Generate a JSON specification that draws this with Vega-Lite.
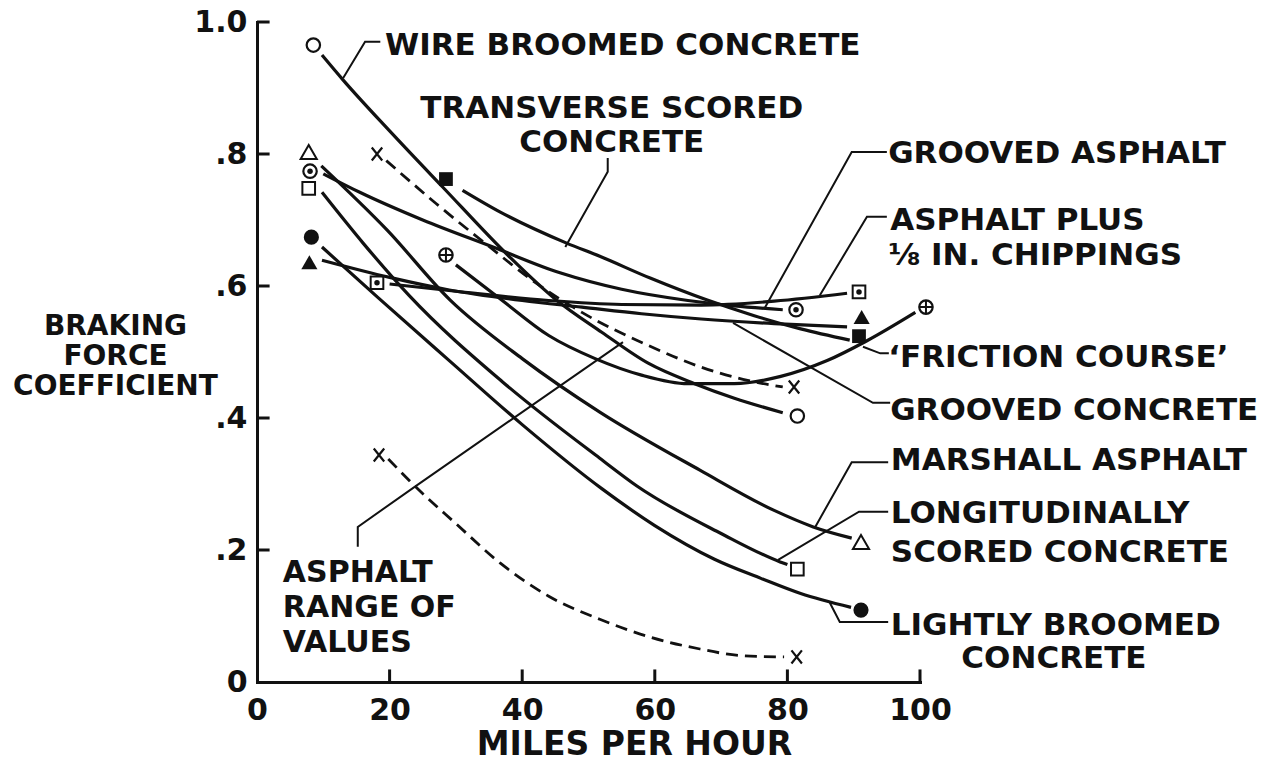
{
  "$schema": "https://vega.github.io/schema/vega-lite/v6.json",
  "width": 663,
  "height": 660,
  "autosize": {"type": "none"},
  "padding": {"left": 257, "top": 22, "right": 363, "bottom": 79},
  "background": "white",
  "config": {
    "view": {"stroke": null},
    "font": "DejaVu Sans",
    "axis": {"grid": false}
  },
  "datasets": {
    "curves": [
      {"series": "Wire broomed concrete", "mph": 9.8, "coef": 0.95},
      {"series": "Wire broomed concrete", "mph": 13, "coef": 0.912},
      {"series": "Wire broomed concrete", "mph": 20, "coef": 0.835},
      {"series": "Wire broomed concrete", "mph": 28, "coef": 0.75},
      {"series": "Wire broomed concrete", "mph": 38, "coef": 0.645},
      {"series": "Wire broomed concrete", "mph": 45, "coef": 0.58},
      {"series": "Wire broomed concrete", "mph": 52, "coef": 0.53},
      {"series": "Wire broomed concrete", "mph": 59, "coef": 0.483},
      {"series": "Wire broomed concrete", "mph": 66, "coef": 0.452},
      {"series": "Wire broomed concrete", "mph": 72, "coef": 0.43},
      {"series": "Wire broomed concrete", "mph": 79.3, "coef": 0.408},
      {"series": "Transverse scored concrete", "mph": 31, "coef": 0.745},
      {"series": "Transverse scored concrete", "mph": 36.7, "coef": 0.712},
      {"series": "Transverse scored concrete", "mph": 46.7, "coef": 0.665},
      {"series": "Transverse scored concrete", "mph": 51.7, "coef": 0.645},
      {"series": "Transverse scored concrete", "mph": 59.3, "coef": 0.612},
      {"series": "Transverse scored concrete", "mph": 67.8, "coef": 0.579},
      {"series": "Transverse scored concrete", "mph": 75, "coef": 0.555},
      {"series": "Transverse scored concrete", "mph": 82, "coef": 0.535},
      {"series": "Transverse scored concrete", "mph": 89.4, "coef": 0.518},
      {"series": "Grooved asphalt", "mph": 10, "coef": 0.77},
      {"series": "Grooved asphalt", "mph": 15.5, "coef": 0.742},
      {"series": "Grooved asphalt", "mph": 25, "coef": 0.7},
      {"series": "Grooved asphalt", "mph": 35.6, "coef": 0.659},
      {"series": "Grooved asphalt", "mph": 45.7, "coef": 0.62},
      {"series": "Grooved asphalt", "mph": 55, "coef": 0.595},
      {"series": "Grooved asphalt", "mph": 65, "coef": 0.578},
      {"series": "Grooved asphalt", "mph": 72, "coef": 0.57},
      {"series": "Grooved asphalt", "mph": 79.3, "coef": 0.564},
      {"series": "Asphalt plus 1/8 in. chippings", "mph": 20, "coef": 0.603},
      {"series": "Asphalt plus 1/8 in. chippings", "mph": 30, "coef": 0.592},
      {"series": "Asphalt plus 1/8 in. chippings", "mph": 44, "coef": 0.578},
      {"series": "Asphalt plus 1/8 in. chippings", "mph": 55, "coef": 0.572},
      {"series": "Asphalt plus 1/8 in. chippings", "mph": 67, "coef": 0.571},
      {"series": "Asphalt plus 1/8 in. chippings", "mph": 78, "coef": 0.577},
      {"series": "Asphalt plus 1/8 in. chippings", "mph": 89, "coef": 0.589},
      {"series": "Grooved concrete", "mph": 9.8, "coef": 0.639},
      {"series": "Grooved concrete", "mph": 20, "coef": 0.613},
      {"series": "Grooved concrete", "mph": 29, "coef": 0.594},
      {"series": "Grooved concrete", "mph": 40, "coef": 0.578},
      {"series": "Grooved concrete", "mph": 49, "coef": 0.568},
      {"series": "Grooved concrete", "mph": 58, "coef": 0.558},
      {"series": "Grooved concrete", "mph": 67, "coef": 0.55},
      {"series": "Grooved concrete", "mph": 78, "coef": 0.543},
      {"series": "Grooved concrete", "mph": 89, "coef": 0.538},
      {"series": "Friction course", "mph": 30, "coef": 0.632},
      {"series": "Friction course", "mph": 37, "coef": 0.578},
      {"series": "Friction course", "mph": 44, "coef": 0.525},
      {"series": "Friction course", "mph": 51, "coef": 0.49},
      {"series": "Friction course", "mph": 58, "coef": 0.465},
      {"series": "Friction course", "mph": 65, "coef": 0.452},
      {"series": "Friction course", "mph": 72, "coef": 0.452},
      {"series": "Friction course", "mph": 79, "coef": 0.463},
      {"series": "Friction course", "mph": 86, "coef": 0.487},
      {"series": "Friction course", "mph": 92, "coef": 0.517},
      {"series": "Friction course", "mph": 99.3, "coef": 0.56},
      {"series": "Marshall asphalt", "mph": 9.7, "coef": 0.782},
      {"series": "Marshall asphalt", "mph": 19.6, "coef": 0.685},
      {"series": "Marshall asphalt", "mph": 29.1, "coef": 0.579},
      {"series": "Marshall asphalt", "mph": 40, "coef": 0.49},
      {"series": "Marshall asphalt", "mph": 51.7, "coef": 0.409},
      {"series": "Marshall asphalt", "mph": 66.8, "coef": 0.321},
      {"series": "Marshall asphalt", "mph": 78, "coef": 0.26},
      {"series": "Marshall asphalt", "mph": 83.9, "coef": 0.235},
      {"series": "Marshall asphalt", "mph": 89.7, "coef": 0.218},
      {"series": "Longitudinally scored concrete", "mph": 9.8, "coef": 0.742},
      {"series": "Longitudinally scored concrete", "mph": 16, "coef": 0.665},
      {"series": "Longitudinally scored concrete", "mph": 23, "coef": 0.585},
      {"series": "Longitudinally scored concrete", "mph": 37, "coef": 0.455},
      {"series": "Longitudinally scored concrete", "mph": 51.7, "coef": 0.339},
      {"series": "Longitudinally scored concrete", "mph": 57.3, "coef": 0.297},
      {"series": "Longitudinally scored concrete", "mph": 70, "coef": 0.225},
      {"series": "Longitudinally scored concrete", "mph": 78.9, "coef": 0.182},
      {"series": "Longitudinally scored concrete", "mph": 80, "coef": 0.178},
      {"series": "Lightly broomed concrete", "mph": 9.8, "coef": 0.659},
      {"series": "Lightly broomed concrete", "mph": 18.3, "coef": 0.582},
      {"series": "Lightly broomed concrete", "mph": 29, "coef": 0.487},
      {"series": "Lightly broomed concrete", "mph": 40, "coef": 0.39},
      {"series": "Lightly broomed concrete", "mph": 52, "coef": 0.293},
      {"series": "Lightly broomed concrete", "mph": 60, "coef": 0.237},
      {"series": "Lightly broomed concrete", "mph": 69, "coef": 0.186},
      {"series": "Lightly broomed concrete", "mph": 76, "coef": 0.157},
      {"series": "Lightly broomed concrete", "mph": 82, "coef": 0.134},
      {"series": "Lightly broomed concrete", "mph": 89.6, "coef": 0.113},
      {"series": "Asphalt range (upper)", "mph": 19.5, "coef": 0.79},
      {"series": "Asphalt range (upper)", "mph": 27, "coef": 0.725},
      {"series": "Asphalt range (upper)", "mph": 35, "coef": 0.66},
      {"series": "Asphalt range (upper)", "mph": 42, "coef": 0.605},
      {"series": "Asphalt range (upper)", "mph": 49, "coef": 0.56},
      {"series": "Asphalt range (upper)", "mph": 59, "coef": 0.51},
      {"series": "Asphalt range (upper)", "mph": 67, "coef": 0.477},
      {"series": "Asphalt range (upper)", "mph": 74, "coef": 0.457},
      {"series": "Asphalt range (upper)", "mph": 79.3, "coef": 0.447},
      {"series": "Asphalt range (lower)", "mph": 19.8, "coef": 0.338},
      {"series": "Asphalt range (lower)", "mph": 24, "coef": 0.295},
      {"series": "Asphalt range (lower)", "mph": 30, "coef": 0.24},
      {"series": "Asphalt range (lower)", "mph": 36.7, "coef": 0.18},
      {"series": "Asphalt range (lower)", "mph": 44, "coef": 0.13},
      {"series": "Asphalt range (lower)", "mph": 51.7, "coef": 0.095},
      {"series": "Asphalt range (lower)", "mph": 59.3, "coef": 0.068},
      {"series": "Asphalt range (lower)", "mph": 66.8, "coef": 0.05},
      {"series": "Asphalt range (lower)", "mph": 73, "coef": 0.04},
      {"series": "Asphalt range (lower)", "mph": 79.5, "coef": 0.038}
    ],
    "markers": [
      {"series": "Wire broomed concrete", "kind": "opencircle", "mph": 8.5, "coef": 0.965},
      {"series": "Wire broomed concrete", "kind": "opencircle", "mph": 81.5, "coef": 0.403},
      {"series": "Transverse scored concrete", "kind": "filledsquare", "mph": 28.5, "coef": 0.762},
      {"series": "Transverse scored concrete", "kind": "filledsquare", "mph": 90.8, "coef": 0.524},
      {"series": "Grooved asphalt", "kind": "circledot", "mph": 8, "coef": 0.774},
      {"series": "Grooved asphalt", "kind": "circledot", "mph": 81.3, "coef": 0.564},
      {"series": "Asphalt plus 1/8 in. chippings", "kind": "squaredot", "mph": 18.1, "coef": 0.605},
      {"series": "Asphalt plus 1/8 in. chippings", "kind": "squaredot", "mph": 90.8, "coef": 0.591},
      {"series": "Grooved concrete", "kind": "filledtriangle", "mph": 7.9, "coef": 0.636},
      {"series": "Grooved concrete", "kind": "filledtriangle", "mph": 91.2, "coef": 0.553},
      {"series": "Friction course", "kind": "circleplus", "mph": 28.5, "coef": 0.647},
      {"series": "Friction course", "kind": "circleplus", "mph": 100.9, "coef": 0.568},
      {"series": "Marshall asphalt", "kind": "opentriangle", "mph": 7.8, "coef": 0.803},
      {"series": "Marshall asphalt", "kind": "opentriangle", "mph": 91.1, "coef": 0.212},
      {"series": "Longitudinally scored concrete", "kind": "opensquare", "mph": 7.8, "coef": 0.748},
      {"series": "Longitudinally scored concrete", "kind": "opensquare", "mph": 81.5, "coef": 0.171},
      {"series": "Lightly broomed concrete", "kind": "filledcircle", "mph": 8.2, "coef": 0.674},
      {"series": "Lightly broomed concrete", "kind": "filledcircle", "mph": 91.1, "coef": 0.109},
      {"series": "Asphalt range (upper)", "kind": "cross", "mph": 18.1, "coef": 0.8},
      {"series": "Asphalt range (upper)", "kind": "cross", "mph": 81, "coef": 0.447},
      {"series": "Asphalt range (lower)", "kind": "cross", "mph": 18.4, "coef": 0.344},
      {"series": "Asphalt range (lower)", "kind": "cross", "mph": 81.4, "coef": 0.038}
    ],
    "leaders": [
      {"leader": "wire", "seq": 1, "mph": 18.6, "coef": 0.97},
      {"leader": "wire", "seq": 2, "mph": 16.3, "coef": 0.97},
      {"leader": "wire", "seq": 3, "mph": 13.0, "coef": 0.915},
      {"leader": "transverse", "seq": 1, "mph": 52.9, "coef": 0.794},
      {"leader": "transverse", "seq": 2, "mph": 52.9, "coef": 0.773},
      {"leader": "transverse", "seq": 3, "mph": 46.5, "coef": 0.659},
      {"leader": "groovedasphalt", "seq": 1, "mph": 95.0, "coef": 0.803},
      {"leader": "groovedasphalt", "seq": 2, "mph": 89.7, "coef": 0.803},
      {"leader": "groovedasphalt", "seq": 3, "mph": 76.6, "coef": 0.567},
      {"leader": "chippings", "seq": 1, "mph": 95.0, "coef": 0.705},
      {"leader": "chippings", "seq": 2, "mph": 92.0, "coef": 0.705},
      {"leader": "chippings", "seq": 3, "mph": 84.9, "coef": 0.586},
      {"leader": "friction", "seq": 1, "mph": 95.3, "coef": 0.498},
      {"leader": "friction", "seq": 2, "mph": 94.0, "coef": 0.498},
      {"leader": "friction", "seq": 3, "mph": 91.4, "coef": 0.508},
      {"leader": "groovedconcrete", "seq": 1, "mph": 95.5, "coef": 0.423},
      {"leader": "groovedconcrete", "seq": 2, "mph": 92.9, "coef": 0.423},
      {"leader": "groovedconcrete", "seq": 3, "mph": 71.8, "coef": 0.544},
      {"leader": "marshall", "seq": 1, "mph": 95.2, "coef": 0.333},
      {"leader": "marshall", "seq": 2, "mph": 89.7, "coef": 0.333},
      {"leader": "marshall", "seq": 3, "mph": 84.2, "coef": 0.235},
      {"leader": "longitudinal", "seq": 1, "mph": 95.2, "coef": 0.258},
      {"leader": "longitudinal", "seq": 2, "mph": 90.8, "coef": 0.258},
      {"leader": "longitudinal", "seq": 3, "mph": 78.6, "coef": 0.185},
      {"leader": "lightly", "seq": 1, "mph": 95.2, "coef": 0.091},
      {"leader": "lightly", "seq": 2, "mph": 87.9, "coef": 0.091},
      {"leader": "lightly", "seq": 3, "mph": 86.4, "coef": 0.12},
      {"leader": "range", "seq": 1, "mph": 15.2, "coef": 0.205},
      {"leader": "range", "seq": 2, "mph": 15.2, "coef": 0.235},
      {"leader": "range", "seq": 3, "mph": 24.1, "coef": 0.298},
      {"leader": "range", "seq": 4, "mph": 55.2, "coef": 0.515}
    ],
    "yTicks": [
      {"mph": 0, "coef": 0.2}, {"mph": 0, "coef": 0.4}, {"mph": 0, "coef": 0.6}, {"mph": 0, "coef": 0.8}, {"mph": 0, "coef": 1.0}
    ],
    "xTicks": [
      {"mph": 20, "coef": 0}, {"mph": 40, "coef": 0}, {"mph": 60, "coef": 0}, {"mph": 80, "coef": 0}, {"mph": 100, "coef": 0}
    ],
    "labelsRight": [
      {"t": "WIRE BROOMED CONCRETE", "mph": 19.3, "coef": 0.95},
      {"t": "GROOVED ASPHALT", "mph": 95.2, "coef": 0.786},
      {"t": "ASPHALT PLUS", "mph": 95.5, "coef": 0.685},
      {"t": "⅛ IN. CHIPPINGS", "mph": 95.2, "coef": 0.632},
      {"t": "‘FRICTION COURSE’", "mph": 95.2, "coef": 0.477},
      {"t": "GROOVED CONCRETE", "mph": 95.5, "coef": 0.397},
      {"t": "MARSHALL ASPHALT", "mph": 95.6, "coef": 0.321},
      {"t": "LONGITUDINALLY", "mph": 95.6, "coef": 0.241},
      {"t": "SCORED CONCRETE", "mph": 95.6, "coef": 0.182},
      {"t": "LIGHTLY BROOMED", "mph": 95.6, "coef": 0.071}
    ],
    "labelsRange": [
      {"t": "ASPHALT", "mph": 3.9, "coef": 0.152},
      {"t": "RANGE OF", "mph": 3.9, "coef": 0.098},
      {"t": "VALUES", "mph": 3.9, "coef": 0.045}
    ],
    "labelsCenter": [
      {"t": "TRANSVERSE SCORED", "mph": 53.5, "coef": 0.855},
      {"t": "CONCRETE", "mph": 53.5, "coef": 0.803},
      {"t": "CONCRETE", "mph": 120.2, "coef": 0.021}
    ]
  },
  "encoding": {
    "x": {
      "field": "mph",
      "type": "quantitative",
      "scale": {"domain": [0, 100], "nice": false, "zero": false},
      "axis": {
        "values": [0, 20, 40, 60, 80, 100],
        "title": "MILES PER HOUR",
        "ticks": false,
        "tickSize": 0,
        "domainColor": "#111",
        "domainWidth": 3,
        "domainCap": "square",
        "labelPadding": 13,
        "labelFontSize": 30,
        "labelFontWeight": "bold",
        "labelColor": "#111",
        "labelFont": "DejaVu Sans",
        "labelFlush": false,
        "labelOverlap": false,
        "titleFontSize": 33,
        "titleFontWeight": "bold",
        "titleColor": "#111",
        "titleFont": "DejaVu Sans",
        "titleX": 377,
        "titleY": 72,
        "titleAlign": "center",
        "titleBaseline": "alphabetic"
      }
    },
    "y": {
      "field": "coef",
      "type": "quantitative",
      "scale": {"domain": [0, 1], "nice": false, "zero": false},
      "axis": {
        "values": [0, 0.2, 0.4, 0.6, 0.8, 1],
        "labelExpr": "datum.value == 0 ? '0' : datum.value == 1 ? '1.0' : '.' + format(datum.value * 10, 'd')",
        "title": ["BRAKING", "FORCE", "COEFFICIENT"],
        "ticks": false,
        "tickSize": 0,
        "domainColor": "#111",
        "domainWidth": 3,
        "domainCap": "square",
        "labelPadding": 10,
        "labelFontSize": 30,
        "labelFontWeight": "bold",
        "labelColor": "#111",
        "labelFont": "DejaVu Sans",
        "labelFlush": false,
        "labelOverlap": false,
        "titleFontSize": 28,
        "titleFontWeight": "bold",
        "titleColor": "#111",
        "titleFont": "DejaVu Sans",
        "titleAngle": 0,
        "titleX": -142,
        "titleY": 312,
        "titleAlign": "center",
        "titleBaseline": "alphabetic",
        "titleLineHeight": 30
      }
    }
  },
  "layer": [
    {
      "data": {"name": "curves"},
      "transform": [{"filter": {"not": {"field": "series", "oneOf": ["Asphalt range (upper)", "Asphalt range (lower)"]}}}],
      "mark": {"type": "line", "interpolate": "monotone", "strokeWidth": 3.2, "color": "#111", "strokeCap": "butt"},
      "encoding": {"detail": {"field": "series"}}
    },
    {
      "data": {"name": "curves"},
      "transform": [{"filter": {"field": "series", "oneOf": ["Asphalt range (upper)", "Asphalt range (lower)"]}}],
      "mark": {"type": "line", "interpolate": "monotone", "strokeWidth": 2.8, "color": "#111", "strokeDash": [12, 7]},
      "encoding": {"detail": {"field": "series"}}
    },
    {
      "data": {"name": "leaders"},
      "mark": {"type": "line", "strokeWidth": 2, "color": "#111"},
      "encoding": {"detail": {"field": "leader"}, "order": {"field": "seq"}}
    },
    {
      "data": {"name": "yTicks"},
      "mark": {"type": "rule", "strokeWidth": 3, "color": "#111"},
      "encoding": {"x2": {"datum": 1.9}}
    },
    {
      "data": {"name": "xTicks"},
      "mark": {"type": "rule", "strokeWidth": 3, "color": "#111"},
      "encoding": {"y2": {"datum": 0.019}}
    },
    {
      "data": {"name": "markers"},
      "transform": [{"filter": {"field": "kind", "oneOf": ["opencircle", "circledot", "circleplus"]}}],
      "mark": {"type": "point", "shape": "circle", "filled": false, "stroke": "#111", "strokeWidth": 2.2, "size": 180, "opacity": 1}
    },
    {
      "data": {"name": "markers"},
      "transform": [{"filter": {"field": "kind", "equal": "filledcircle"}}],
      "mark": {"type": "point", "shape": "circle", "filled": true, "color": "#111", "size": 230, "opacity": 1}
    },
    {
      "data": {"name": "markers"},
      "transform": [{"filter": {"field": "kind", "oneOf": ["circledot", "squaredot"]}}],
      "mark": {"type": "point", "shape": "circle", "filled": true, "color": "#111", "size": 30, "opacity": 1}
    },
    {
      "data": {"name": "markers"},
      "transform": [{"filter": {"field": "kind", "oneOf": ["opensquare", "squaredot"]}}],
      "mark": {"type": "point", "shape": "square", "filled": false, "stroke": "#111", "strokeWidth": 2, "size": 160, "opacity": 1}
    },
    {
      "data": {"name": "markers"},
      "transform": [{"filter": {"field": "kind", "equal": "filledsquare"}}],
      "mark": {"type": "point", "shape": "square", "filled": true, "color": "#111", "size": 190, "opacity": 1}
    },
    {
      "data": {"name": "markers"},
      "transform": [{"filter": {"field": "kind", "equal": "opentriangle"}}],
      "mark": {"type": "point", "shape": "triangle-up", "filled": false, "stroke": "#111", "strokeWidth": 2, "size": 260, "opacity": 1}
    },
    {
      "data": {"name": "markers"},
      "transform": [{"filter": {"field": "kind", "equal": "filledtriangle"}}],
      "mark": {"type": "point", "shape": "triangle-up", "filled": true, "color": "#111", "size": 260, "opacity": 1}
    },
    {
      "data": {"name": "markers"},
      "transform": [{"filter": {"field": "kind", "equal": "cross"}}],
      "mark": {"type": "point", "shape": "M-0.8,-1L0.8,1M-0.8,1L0.8,-1", "filled": false, "stroke": "#111", "strokeWidth": 2.2, "size": 170, "opacity": 1}
    },
    {
      "data": {"name": "markers"},
      "transform": [{"filter": {"field": "kind", "equal": "circleplus"}}],
      "mark": {"type": "point", "shape": "M-1,0L1,0M0,-1L0,1", "filled": false, "stroke": "#111", "strokeWidth": 2, "size": 150, "opacity": 1}
    },
    {
      "data": {"name": "labelsRight"},
      "mark": {"type": "text", "align": "left", "baseline": "alphabetic", "fontSize": 31, "fontWeight": "bold", "font": "DejaVu Sans", "color": "#111"},
      "encoding": {"text": {"field": "t"}}
    },
    {
      "data": {"name": "labelsRange"},
      "mark": {"type": "text", "align": "left", "baseline": "alphabetic", "fontSize": 30, "fontWeight": "bold", "font": "DejaVu Sans", "color": "#111"},
      "encoding": {"text": {"field": "t"}}
    },
    {
      "data": {"name": "labelsCenter"},
      "mark": {"type": "text", "align": "center", "baseline": "alphabetic", "fontSize": 31, "fontWeight": "bold", "font": "DejaVu Sans", "color": "#111"},
      "encoding": {"text": {"field": "t"}}
    }
  ]
}
